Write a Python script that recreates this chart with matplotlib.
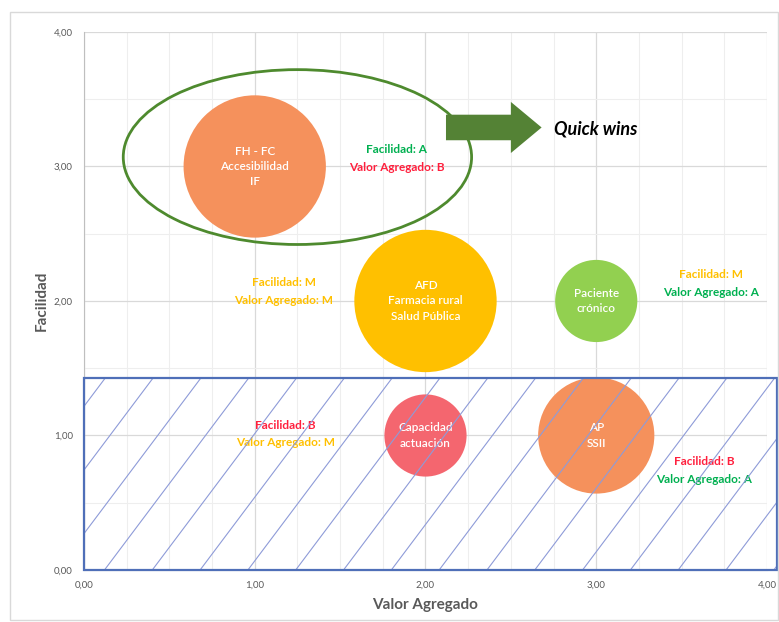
import numpy as np
import matplotlib
matplotlib.use("Agg")
import matplotlib.pyplot as plt
import matplotlib.patches as mpatches
from matplotlib.ticker import MultipleLocator, FuncFormatter

plt.rcParams['font.family'] = ['Lato', 'DejaVu Sans']

# bubble data
etiquetas = ["FH - FC\nAccesibilidad\nIF", "AFD\nFarmacia rural\nSalud Pública",
             "Paciente\ncrónico", "Capacidad\nactuación", "AP\nSSII"]
valor_agregado = [1.0, 2.0, 3.0, 2.0, 3.0]
facilidad = [3.0, 2.0, 2.0, 1.0, 1.0]
peso = [3.0, 3.0, 1.0, 1.0, 2.0]
colores = ["#F5915C", "#FFC000", "#92D050", "#F4666F", "#F5915C"]

VERDE = "#00B050"
ROJO = "#FF1F3D"
AMARILLO = "#FFC000"

fig = plt.figure(figsize=(7.79, 6.22), dpi=100)
ax = fig.add_axes([0.1078, 0.0836, 0.8768, 0.865])

# chart frame
fig.patches.append(mpatches.Rectangle((10 / 779, 2 / 622), 768 / 779, 608 / 622,
                                      transform=fig.transFigure, fill=False,
                                      edgecolor="#D9D9D9", linewidth=1))

ax.set_xlim(0, 4)
ax.set_ylim(0, 4)
ax.xaxis.set_major_locator(MultipleLocator(1))
ax.yaxis.set_major_locator(MultipleLocator(1))
ax.xaxis.set_minor_locator(MultipleLocator(0.25))
ax.yaxis.set_minor_locator(MultipleLocator(0.5))
fmt = FuncFormatter(lambda v, p: f"{v:.2f}".replace(".", ","))
ax.xaxis.set_major_formatter(fmt)
ax.yaxis.set_major_formatter(fmt)
ax.grid(which="major", color="#D9D9D9", linewidth=0.9)
ax.grid(which="minor", color="#EEEEEE", linewidth=0.8)
ax.set_axisbelow(True)
for s in ["top", "right"]:
    ax.spines[s].set_visible(False)
for s in ["left", "bottom"]:
    ax.spines[s].set_color("#BFBFBF")
ax.tick_params(which="both", length=0, labelsize=7, labelcolor="#595959", pad=8)

ax.set_xlabel("Valor Agregado", fontsize=11, fontweight="bold", color="#595959", labelpad=6)
ax.set_ylabel("Facilidad", fontsize=11, fontweight="bold", color="#595959", labelpad=4)

# bubbles
ax.scatter(valor_agregado, facilidad, s=np.array(peso) * 3500, c=colores,
           linewidths=0, zorder=2)
for x, y, t in zip(valor_agregado, facilidad, etiquetas):
    ax.text(x, y, t, ha="center", va="center", color="white", fontsize=8.5,
            fontweight="semibold", linespacing=1.45, zorder=3)

# annotations
def nota(x, y, l1, c1, l2, c2):
    ax.text(x, y + 0.065, l1, ha="center", va="center", color=c1, fontsize=8.5,
            fontweight="bold", zorder=3)
    ax.text(x, y - 0.065, l2, ha="center", va="center", color=c2, fontsize=8.5,
            fontweight="bold", zorder=3)

nota(1.83, 3.06, "Facilidad: A", VERDE, "Valor Agregado: B", ROJO)
nota(1.17, 2.07, "Facilidad: M", AMARILLO, "Valor Agregado: M", AMARILLO)
nota(3.67, 2.13, "Facilidad: M", AMARILLO, "Valor Agregado: A", VERDE)
nota(1.18, 1.01, "Facilidad: B", ROJO, "Valor Agregado: M", AMARILLO)
nota(3.63, 0.74, "Facilidad: B", ROJO, "Valor Agregado: A", VERDE)

# quick wins ellipse and arrow
ax.add_patch(mpatches.Ellipse((1.25, 3.07), 2.04, 1.30, fill=False,
                              edgecolor="#4E8A2E", linewidth=2, zorder=4))
ax.add_patch(mpatches.FancyArrow(2.12, 3.29, 0.56, 0, width=0.19, head_width=0.38,
                                 head_length=0.18, length_includes_head=True,
                                 color="#548235", linewidth=0, zorder=4))
ax.text(2.75, 3.28, "Quick wins", fontsize=13, fontweight="bold", style="italic",
        color="black", va="center", ha="left", zorder=4)

# hatched low-facility zone
zona = mpatches.Rectangle((0, 0), 4.06, 1.43, fill=False, edgecolor="#4F6FB8",
                          linewidth=1.6, zorder=6, clip_on=False)
ax.add_patch(zona)
pendiente = 1.69
for x0 in np.arange(-1.0, 4.2, 0.28):
    xs = np.array([x0, x0 + 1.5 / pendiente])
    ln, = ax.plot(xs, (xs - x0) * pendiente, color="#8E9BD8", linewidth=0.8,
                  zorder=5)
    ln.set_clip_path(zona)

fig.savefig("out.png", dpi=100)
